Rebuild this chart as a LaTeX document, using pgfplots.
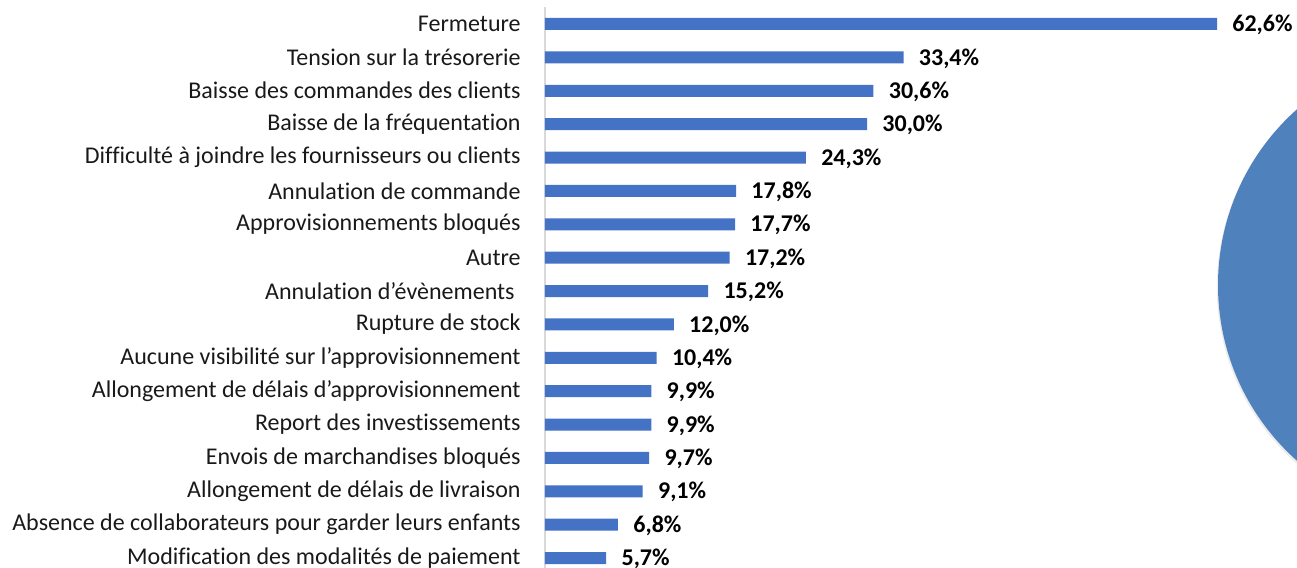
\documentclass[border=0pt]{standalone}
\usepackage{pgfplots}
\pgfplotsset{compat=1.18}
\usepackage{fontspec}
\setmainfont{Carlito}[Ligatures=NoCommon]
\definecolor{barblue}{HTML}{4472C4}
\definecolor{circblue}{HTML}{4F81BD}
\begin{document}
\begin{tikzpicture}
\clip[use as bounding box] (0pt,0pt) rectangle (648.5pt,-284pt);
% decorative shape of the slide (partly visible on the right)
\fill[black!15, opacity=0.5] (726.0pt,-143.5pt) circle (117.6pt);
\fill[circblue] (726.5pt,-142.5pt) circle (117.5pt);
\begin{axis}[
  at={(272.5pt,-3.65pt)}, anchor=north west,
  scale only axis, width=336pt, height=283.7pt,
  xbar, bar width=6pt,
  xmin=0, xmax=62.6,
  ymin=-0.5, ymax=16.5, y dir=reverse,
  hide x axis,
  axis y line*=left,
  y axis line style={draw=black!15, line width=1pt, -},
  ytick={0,...,16},
  major tick length=0pt,
  ytick style={draw=none},
  yticklabels={Fermeture,Tension sur la trésorerie,Baisse des commandes des clients,Baisse de la fréquentation,Difficulté à joindre les fournisseurs ou clients,Annulation de commande,Approvisionnements bloqués,Autre,Annulation d’évènements\kern3pt,Rupture de stock,Aucune visibilité sur l’approvisionnement,Allongement de délais d’approvisionnement,Report des investissements,Envois de marchandises bloqués,Allongement de délais de livraison,Absence de collaborateurs pour garder leurs enfants,Modification des modalités de paiement},
  yticklabel style={font=\fontsize{12}{14}\selectfont, text=black!90, anchor=east, inner sep=0pt, xshift=-12pt},
  /pgf/number format/assume math mode=true,
  nodes near coords={\pgfmathprintnumber[fixed,fixed zerofill,precision=1,use comma,assume math mode=true]{\pgfplotspointmeta}\%},
  every node near coord/.append style={font=\fontsize{12}{14}\selectfont\bfseries, text=black, anchor=west, inner sep=0pt, xshift=7.5pt, yshift=-0.5pt},
  clip=false,
]
\addplot[fill=barblue, draw=none] coordinates {
(62.6,0) (33.4,1) (30.6,2) (30.0,3) (24.3,4) (17.8,5) (17.7,6) (17.2,7) (15.2,8)
(12.0,9) (10.4,10) (9.9,11) (9.9,12) (9.7,13) (9.1,14) (6.8,15) (5.7,16)};
\end{axis}
\end{tikzpicture}
\end{document}
